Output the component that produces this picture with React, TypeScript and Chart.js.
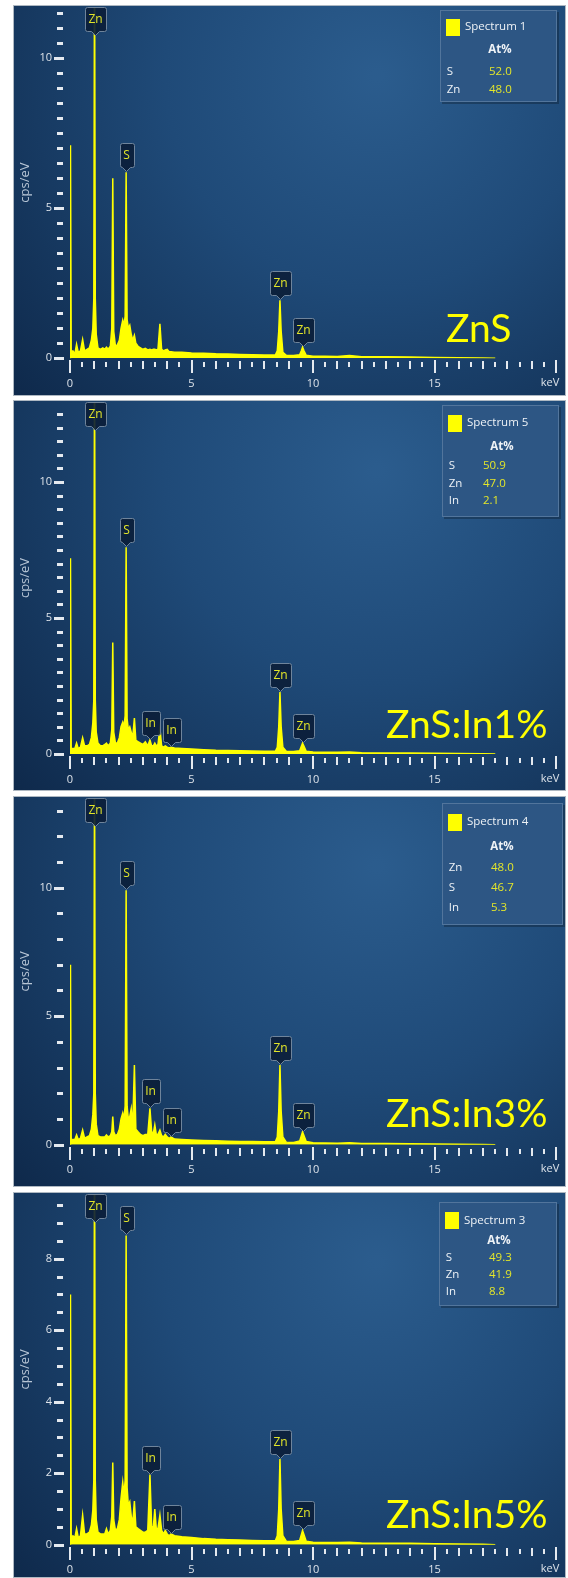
import React, { useEffect, useRef } from 'react';
import { Chart, registerables } from 'chart.js';

Chart.register(...registerables);

// ---------------- data ----------------
const energyKeV = [
  0.0, 0.02, 0.05, 0.12, 0.2, 0.27, 0.34, 0.43, 0.52, 0.6,
  0.7, 0.8, 0.88, 0.94, 0.98, 1.01, 1.04, 1.08, 1.15, 1.25,
  1.35, 1.43, 1.5, 1.57, 1.66, 1.72, 1.76, 1.8, 1.87, 1.95,
  2.03, 2.1, 2.17, 2.22, 2.27, 2.31, 2.35, 2.4, 2.46, 2.52,
  2.58, 2.65, 2.71, 2.8, 2.9, 3.0, 3.1, 3.2, 3.29, 3.36,
  3.43, 3.49, 3.55, 3.62, 3.7, 3.77, 3.85, 3.92, 4.0, 4.08,
  4.16, 4.3, 4.6, 5.0, 5.5, 6.0, 6.5, 7.0, 7.5, 8.0,
  8.45, 8.53, 8.59, 8.64, 8.69, 8.76, 8.9, 9.2, 9.45, 9.52,
  9.57, 9.63, 9.72, 10.0, 10.5, 11.0, 11.5, 12.0, 13.0, 14.0,
  15.0, 16.0, 17.0, 17.5,
];

const cpsZnS = [
  0, 7.1, 0.2, 0.25, 0.15, 0.47, 0.2, 0.25, 0.63, 0.25,
  0.3, 0.35, 0.6, 1.0, 2.0, 14, 2.0, 0.8, 0.35, 0.3,
  0.35, 0.3, 0.37, 0.3, 0.4, 1.0, 6.0, 0.9, 0.4, 0.45,
  0.6, 1.0, 1.27, 1.1, 1.4, 6.2, 1.3, 1.0, 1.1, 0.8,
  0.6, 0.77, 0.5, 0.4, 0.35, 0.3, 0.33, 0.28, 0.3, 0.28,
  0.3, 0.3, 0.28, 0.3, 1.15, 0.3, 0.25, 0.28, 0.3, 0.22,
  0.22, 0.2, 0.2, 0.18, 0.17, 0.15, 0.14, 0.13, 0.12, 0.11,
  0.11, 0.25, 0.9, 1.93, 0.9, 0.2, 0.1, 0.09, 0.12, 0.25,
  0.37, 0.25, 0.1, 0.07, 0.07, 0.06, 0.09, 0.05, 0.05, 0.04,
  0.03, 0.02, 0.01, 0,
];

const cpsZnSIn1 = [
  0, 7.2, 0.2, 0.2, 0.2, 0.4, 0.2, 0.25, 0.6, 0.3,
  0.3, 0.35, 0.6, 1.15, 2.0, 15, 2.0, 0.8, 0.4, 0.3,
  0.3, 0.35, 0.4, 0.3, 0.4, 0.9, 4.1, 0.8, 0.4, 0.4,
  0.6, 1.0, 1.17, 1.0, 1.4, 7.6, 1.3, 0.9, 1.0, 0.8,
  0.6, 1.32, 0.5, 0.45, 0.4, 0.35, 0.45, 0.3, 0.52, 0.3,
  0.3, 0.4, 0.3, 0.35, 0.95, 0.3, 0.25, 0.3, 0.25, 0.22,
  0.25, 0.22, 0.2, 0.18, 0.16, 0.14, 0.13, 0.12, 0.11, 0.1,
  0.1, 0.25, 1.0, 2.28, 1.0, 0.25, 0.1, 0.09, 0.12, 0.28,
  0.4, 0.28, 0.1, 0.07, 0.06, 0.06, 0.07, 0.05, 0.04, 0.04,
  0.03, 0.02, 0.01, 0,
];

const cpsZnSIn3 = [
  0, 7.0, 0.2, 0.2, 0.2, 0.38, 0.2, 0.25, 0.57, 0.25,
  0.3, 0.35, 0.6, 1.17, 2.0, 15, 2.0, 0.8, 0.35, 0.3,
  0.3, 0.3, 0.38, 0.3, 0.35, 0.5, 1.1, 0.5, 0.35, 0.4,
  0.6, 1.0, 1.23, 1.0, 1.5, 9.9, 1.5, 1.0, 1.1, 1.4,
  0.7, 3.1, 0.6, 0.5, 0.4, 0.35, 0.4, 0.4, 1.42, 0.5,
  0.45, 0.77, 0.4, 0.4, 0.57, 0.35, 0.3, 0.4, 0.3, 0.25,
  0.3, 0.22, 0.2, 0.18, 0.16, 0.15, 0.13, 0.12, 0.12, 0.11,
  0.11, 0.3, 1.3, 3.1, 1.3, 0.3, 0.1, 0.09, 0.14, 0.35,
  0.5, 0.35, 0.12, 0.08, 0.07, 0.06, 0.08, 0.05, 0.05, 0.04,
  0.03, 0.02, 0.01, 0,
];

const cpsZnSIn5 = [
  0, 7.0, 0.2, 0.25, 0.2, 0.45, 0.2, 0.25, 0.83, 0.3,
  0.3, 0.35, 0.55, 0.97, 1.8, 12, 1.8, 0.7, 0.35, 0.3,
  0.3, 0.3, 0.45, 0.3, 0.4, 0.8, 2.3, 0.7, 0.4, 0.45,
  0.7, 1.3, 1.75, 1.4, 1.8, 8.65, 1.6, 1.1, 1.2, 0.8,
  0.6, 1.22, 0.5, 0.45, 0.4, 0.35, 0.35, 0.4, 1.96, 0.5,
  0.5, 1.0, 0.45, 0.45, 0.83, 0.4, 0.3, 0.4, 0.3, 0.25,
  0.3, 0.25, 0.22, 0.2, 0.17, 0.15, 0.14, 0.13, 0.12, 0.11,
  0.11, 0.25, 1.0, 2.4, 1.0, 0.25, 0.1, 0.09, 0.12, 0.28,
  0.4, 0.28, 0.1, 0.07, 0.06, 0.06, 0.07, 0.05, 0.04, 0.04,
  0.03, 0.02, 0.01, 0,
];

const sampleNames = ['ZnS', 'ZnS:In1%', 'ZnS:In3%', 'ZnS:In5%'];
const spectrumNames = ['Spectrum 1', 'Spectrum 5', 'Spectrum 4', 'Spectrum 3'];
const quantHeader = 'At%';
const quantElements = [['S', 'Zn'], ['S', 'Zn', 'In'], ['Zn', 'S', 'In'], ['S', 'Zn', 'In']];
const quantAtPercent = [['52.0', '48.0'], ['50.9', '47.0', '2.1'], ['48.0', '46.7', '5.3'], ['49.3', '41.9', '8.8']];

const peakElements = [
  ['Zn', 'S', 'Zn', 'Zn'],
  ['Zn', 'S', 'In', 'In', 'Zn', 'Zn'],
  ['Zn', 'S', 'In', 'In', 'Zn', 'Zn'],
  ['Zn', 'S', 'In', 'In', 'Zn', 'Zn'],
];
const peakEnergies = [
  [1.01, 2.31, 8.64, 9.57],
  [1.01, 2.31, 3.29, 4.16, 8.64, 9.57],
  [1.01, 2.31, 3.29, 4.16, 8.64, 9.57],
  [1.01, 2.31, 3.29, 4.16, 8.64, 9.57],
];

const yAxisMax = [11.71, 12.94, 13.49, 9.81];
const yMajorStep = [5, 5, 5, 2];
const yMinorStep = [0.5, 0.5, 1, 0.5];
const xAxisMax = 20;
const xMajorStep = 5;
const xMinorStep = 0.5;
const xUnitLabel = 'keV';
const yAxisTitle = 'cps/eV';

const spectra = [cpsZnS, cpsZnSIn1, cpsZnSIn3, cpsZnSIn5];

// ---------------- layout ----------------
const PANEL_LEFT = 13;
const PANEL_W = 553;
const PLOT_LEFT = 57;
const PLOT_RIGHT = 543;
const PLOT_TOP = 2;
const panelTop = [5, 400, 796, 1192];
const panelHeight = [391, 391, 391, 386];
const zeroLine = [353.3, 354, 348.7, 352.7];
const legendBox = [
  { left: 427, top: 5, width: 117, height: 92, spec: 17, at: 40, row: 62, step: 17.5, val: 49 },
  { left: 429, top: 5, width: 117, height: 112, spec: 18, at: 41.7, row: 60.7, step: 17.7, val: 41 },
  { left: 429, top: 7, width: 121, height: 122, spec: 19, at: 44, row: 65, step: 20, val: 49 },
  { left: 426, top: 10, width: 118, height: 104, spec: 18.6, at: 38.7, row: 55.8, step: 17.2, val: 50 },
];
const bigLabelX = [433, 373, 373, 373];
const bigLabelBaseline = [337, 338, 331, 336];

const UI_FONT = "'Open Sans', 'DejaVu Sans', sans-serif";
const BIG_FONT = "Lato, 'Open Sans', sans-serif";

function decorations(idx: number) {
  return {
    id: 'edsDecor',
    beforeDraw(chart: any) {
      const { ctx, width, height } = chart;
      ctx.save();
      const cx = width * 0.66;
      const cy = height * 0.18;
      const g = ctx.createRadialGradient(cx, cy, 5, cx, cy, width * 0.95);
      g.addColorStop(0, '#2b5c8d');
      g.addColorStop(0.4, '#1f4a78');
      g.addColorStop(1, '#0c2444');
      ctx.fillStyle = g;
      ctx.fillRect(0, 0, width, height);
      ctx.strokeStyle = '#aeb8c2';
      ctx.lineWidth = 1;
      ctx.strokeRect(0.5, 0.5, width - 1, height - 1);
      ctx.restore();
    },
    afterDatasetsDraw(chart: any) {
      const { ctx, chartArea } = chart;
      const xs = chart.scales.x;
      const ys = chart.scales.y;
      ctx.save();

      // x ticks
      ctx.fillStyle = '#e4e9ef';
      const nx = Math.round(xAxisMax / xMinorStep);
      const xRatio = Math.round(xMajorStep / xMinorStep);
      for (let k = 0; k <= nx; k++) {
        const v = k * xMinorStep;
        const px = Math.round(xs.getPixelForValue(v));
        const major = k % xRatio === 0;
        const integer = k % 2 === 0;
        const y0 = chartArea.bottom + (major ? 2 : integer ? 3 : 4);
        const y1 = chartArea.bottom + (major ? 15 : integer ? 11 : 9);
        ctx.fillRect(px - 1, Math.round(y0), 2, Math.round(y1 - y0));
      }
      // y ticks
      const ny = Math.floor(yAxisMax[idx] / yMinorStep[idx] + 1e-6);
      const yRatio = Math.round(yMajorStep[idx] / yMinorStep[idx]);
      for (let k = 0; k <= ny; k++) {
        const v = k * yMinorStep[idx];
        const py = Math.round(ys.getPixelForValue(v));
        const major = k % yRatio === 0;
        const x0 = chartArea.left - (major ? 16 : 13);
        const x1 = chartArea.left - (major ? 6 : 7);
        ctx.fillRect(Math.round(x0), py - 1, Math.round(x1 - x0), 3);
      }

      // unit label
      ctx.font = `11px ${UI_FONT}`;
      ctx.textAlign = 'center';
      ctx.textBaseline = 'top';
      ctx.fillStyle = '#dde3ea';
      ctx.fillText(xUnitLabel, xs.getPixelForValue(xAxisMax) - 6, chartArea.bottom + 19);

      // peak labels
      const series = spectra[idx];
      ctx.font = `12px ${UI_FONT}`;
      peakElements[idx].forEach((el, j) => {
        const e = peakEnergies[idx][j];
        const i = energyKeV.indexOf(e);
        const cx = Math.round(xs.getPixelForValue(e)) + 0.5;
        const tip = ys.getPixelForValue(series[i]) - 1;
        const w = Math.round(ctx.measureText(el).width) + 7;
        const h = 24;
        const ph = 4;
        let bottom = tip - ph;
        let top = bottom - h;
        if (top < chartArea.top) {
          top = chartArea.top;
          bottom = top + h;
        }
        top = Math.round(top) + 0.5;
        bottom = Math.round(bottom) + 0.5;
        const l = Math.round(cx - w / 2) + 0.5;
        const r = l + w;
        ctx.beginPath();
        ctx.moveTo(l + 2, top);
        ctx.lineTo(r - 2, top);
        ctx.quadraticCurveTo(r, top, r, top + 2);
        ctx.lineTo(r, bottom - 2);
        ctx.quadraticCurveTo(r, bottom, r - 2, bottom);
        ctx.lineTo(cx + 4, bottom);
        ctx.lineTo(cx, bottom + ph);
        ctx.lineTo(cx - 4, bottom);
        ctx.lineTo(l + 2, bottom);
        ctx.quadraticCurveTo(l, bottom, l, bottom - 2);
        ctx.lineTo(l, top + 2);
        ctx.quadraticCurveTo(l, top, l + 2, top);
        ctx.closePath();
        ctx.fillStyle = 'rgba(11,30,56,0.9)';
        ctx.fill();
        ctx.strokeStyle = '#6f849b';
        ctx.lineWidth = 1;
        ctx.stroke();
        ctx.fillStyle = '#e2e52a';
        ctx.textAlign = 'center';
        ctx.textBaseline = 'middle';
        ctx.fillText(el, cx, (top + bottom) / 2 + 0.5);
      });

      // quant legend box
      const lb = legendBox[idx];
      ctx.fillStyle = 'rgba(0,0,0,0.25)';
      ctx.fillRect(lb.left + 2, lb.top + 2, lb.width, lb.height);
      ctx.fillStyle = '#2d5684';
      ctx.fillRect(lb.left, lb.top, lb.width, lb.height);
      ctx.strokeStyle = '#52759c';
      ctx.strokeRect(lb.left + 0.5, lb.top + 0.5, lb.width - 1, lb.height - 1);
      const specY = lb.top + lb.spec;
      ctx.fillStyle = '#ffff00';
      ctx.fillRect(lb.left + 6, Math.round(specY - 8.5), 14, 17);
      ctx.font = `11.5px ${UI_FONT}`;
      ctx.textAlign = 'left';
      ctx.textBaseline = 'middle';
      ctx.fillStyle = '#eef2f6';
      ctx.fillText(spectrumNames[idx], lb.left + 25, specY);
      ctx.font = `bold 11.5px ${UI_FONT}`;
      ctx.textAlign = 'center';
      ctx.fillText(quantHeader, lb.left + 60, lb.top + lb.at);
      ctx.font = `11.5px ${UI_FONT}`;
      quantElements[idx].forEach((el, j) => {
        const ry = lb.top + lb.row + j * lb.step;
        ctx.textAlign = 'left';
        ctx.fillStyle = '#eef2f6';
        ctx.fillText(el, lb.left + 6.7, ry);
        ctx.fillStyle = '#e3e62a';
        ctx.fillText(quantAtPercent[idx][j], lb.left + lb.val, ry);
      });

      // sample name
      ctx.font = `39px ${BIG_FONT}`;
      ctx.textAlign = 'left';
      ctx.textBaseline = 'alphabetic';
      ctx.fillStyle = '#ffff00';
      ctx.fillText(sampleNames[idx], bigLabelX[idx], bigLabelBaseline[idx]);

      ctx.restore();
    },
  };
}

function SpectrumPanel({ idx }: { idx: number }) {
  const ref = useRef<HTMLCanvasElement>(null);
  useEffect(() => {
    const canvas = ref.current;
    if (!canvas) return;
    const series = spectra[idx];
    const H = panelHeight[idx];
    const chart = new Chart(canvas, {
      type: 'line',
      data: {
        datasets: [
          {
            data: energyKeV.map((e, i) => ({ x: e, y: series[i] })),
            borderColor: '#ffff00',
            backgroundColor: '#ffff00',
            borderWidth: 1.5,
            fill: 'origin',
            pointRadius: 0,
            tension: 0,
          },
        ],
      },
      options: {
        responsive: false,
        maintainAspectRatio: false,
        animation: false,
        events: [],
        layout: { padding: { top: PLOT_TOP, left: 0, right: PANEL_W - PLOT_RIGHT, bottom: 0 } },
        plugins: { legend: { display: false }, tooltip: { enabled: false } },
        scales: {
          x: {
            type: 'linear',
            min: 0,
            max: xAxisMax,
            grid: { display: false, drawTicks: false },
            border: { display: false },
            ticks: {
              stepSize: xMajorStep,
              autoSkip: false,
              maxRotation: 0,
              padding: 19,
              color: '#dde3ea',
              font: { family: UI_FONT, size: 11 },
              callback: (v: any) => (v === xAxisMax ? '' : String(v)),
            },
            afterFit: (s: any) => {
              s.height = H - zeroLine[idx];
              s.paddingLeft = 0;
              s.paddingRight = 0;
            },
          },
          y: {
            type: 'linear',
            min: 0,
            max: yAxisMax[idx],
            grid: { display: false, drawTicks: false },
            border: { display: false },
            ticks: {
              stepSize: yMajorStep[idx],
              includeBounds: false,
              padding: 18,
              color: '#dde3ea',
              font: { family: UI_FONT, size: 11 },
            },
            title: {
              display: true,
              text: yAxisTitle,
              color: '#b8c6d6',
              font: { family: UI_FONT, size: 13 },
              padding: { top: 4, bottom: 0 },
            },
            afterFit: (s: any) => {
              s.width = PLOT_LEFT;
              s.paddingTop = 0;
              s.paddingBottom = 0;
            },
          },
        },
      } as any,
      plugins: [decorations(idx)],
    });
    return () => chart.destroy();
  }, [idx]);
  return (
    <canvas
      ref={ref}
      width={PANEL_W}
      height={panelHeight[idx]}
      style={{
        position: 'absolute',
        left: PANEL_LEFT,
        top: panelTop[idx],
        width: PANEL_W,
        height: panelHeight[idx],
        display: 'block',
      }}
    />
  );
}

export default function App() {
  return (
    <div
      style={{
        position: 'absolute',
        left: 0,
        top: 0,
        width: 568,
        height: 1578,
        background: '#ffffff',
        overflow: 'hidden',
      }}
    >
      {[0, 1, 2, 3].map((i) => (
        <SpectrumPanel key={i} idx={i} />
      ))}
    </div>
  );
}
